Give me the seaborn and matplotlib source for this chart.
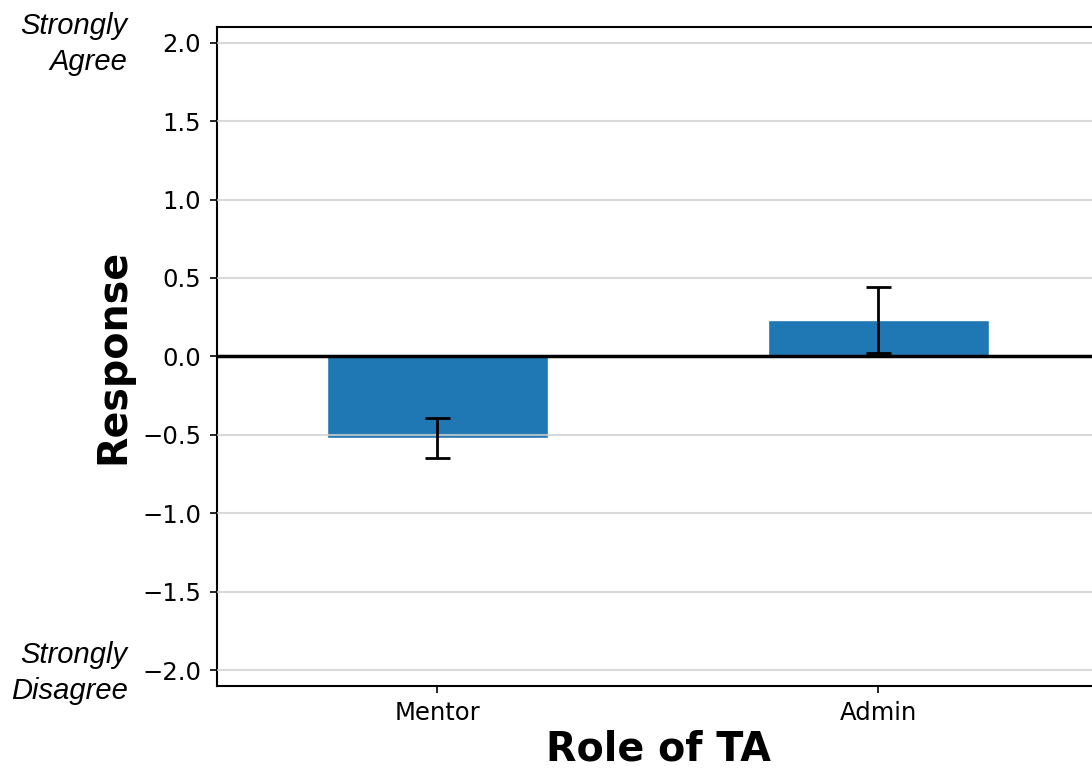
import matplotlib
matplotlib.use("Agg")
import matplotlib.pyplot as plt
import seaborn as sns
import pandas as pd

roles = ["Mentor", "Admin"]
means = [-0.52, 0.23]
errors = [0.13, 0.21]
yticks = [-2.0, -1.5, -1.0, -0.5, 0.0, 0.5, 1.0, 1.5, 2.0]

sns.set_style("ticks")
plt.rcParams['font.family'] = ['DejaVu Sans']
plt.rcParams['text.color'] = 'black'
plt.rcParams['axes.labelcolor'] = 'black'
plt.rcParams['xtick.color'] = 'black'
plt.rcParams['ytick.color'] = 'black'
plt.rcParams['axes.edgecolor'] = 'black'

df = pd.DataFrame({"Role of TA": roles, "Response": means})

fig = plt.figure(figsize=(10.92, 7.69), dpi=100)
ax = fig.add_axes([0.1987, 0.108, 0.8077, 0.857])

sns.barplot(data=df, x="Role of TA", y="Response", color="#1f77b4",
            saturation=1, width=0.5, errorbar=None, ax=ax, zorder=1)
ax.errorbar(x=range(len(roles)), y=means, yerr=errors, fmt="none",
            ecolor="black", elinewidth=2, capsize=9, capthick=2, zorder=4)

ax.axhline(0, color="black", linewidth=2.5, zorder=5)
ax.set_ylim(-2.1, 2.1)
ax.set_xlim(-0.5, 1.5)
ax.set_yticks(yticks)
ax.yaxis.grid(True, color="#d0d0d0", linewidth=1.5, alpha=0.8, zorder=3)
ax.set_axisbelow(False)
for s in ax.spines.values():
    s.set_linewidth(1.5)

ax.tick_params(axis="both", labelsize=17.5, width=1.2, length=5)
ax.tick_params(axis="x", pad=6)
ax.tick_params(axis="y", pad=6.5)
ax.set_xlabel("Role of TA", fontsize=28.5, fontweight="bold", labelpad=3)
ax.set_ylabel("Response", fontsize=28.5, fontweight="bold", labelpad=6)

fig.text(0.117, 1 - 44 / 769, "Strongly\nAgree", ha="right", va="center",
         fontsize=21, fontstyle="italic", family="Liberation Sans", linespacing=1.4)
fig.text(0.117, 1 - 673 / 769, "Strongly\nDisagree", ha="right", va="center",
         fontsize=21, fontstyle="italic", family="Liberation Sans", linespacing=1.4)

fig.savefig("out.png", dpi=100)
